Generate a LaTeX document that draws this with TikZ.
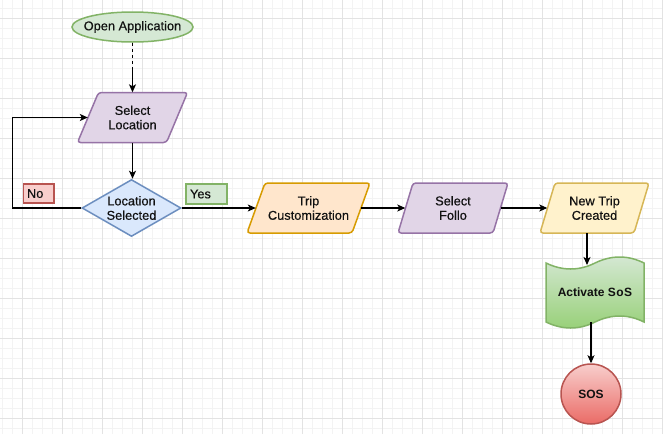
\documentclass[tikz,border=0pt]{standalone}
\usepackage{fontspec}
\setmainfont{Liberation Sans}
\newfontfamily\medfont{Liberation Sans}[FakeBold=0.4]
\usetikzlibrary{shapes.geometric,arrows.meta}
\definecolor{gridminor}{HTML}{F3F3F3}
\definecolor{gridmajor}{HTML}{E3E3E3}
\definecolor{grnF}{HTML}{D5E8D4}\definecolor{grnD}{HTML}{82B366}
\definecolor{purF}{HTML}{E1D5E7}\definecolor{purD}{HTML}{9673A6}
\definecolor{bluF}{HTML}{DAE8FC}\definecolor{bluD}{HTML}{6C8EBF}
\definecolor{orgF}{HTML}{FFE6CC}\definecolor{orgD}{HTML}{D79B00}
\definecolor{ylwF}{HTML}{FFF2CC}\definecolor{ylwD}{HTML}{D6B656}
\definecolor{redF}{HTML}{F8CECC}\definecolor{redD}{HTML}{B85450}
\definecolor{grnG}{HTML}{97D077}\definecolor{redG}{HTML}{EA6B66}
\definecolor{txtc}{HTML}{111111}
% name, cx, cy, inner width, height, skew, style, text
\newcommand\paranode[8]{%
  \filldraw[#7, rounded corners=3pt] (#2-#4/2+#6/2,#3-#5/2) -- (#2+#4/2+#6/2,#3-#5/2) -- (#2+#4/2-#6/2,#3+#5/2) -- (#2-#4/2-#6/2,#3+#5/2) -- cycle;
  \node[txt, minimum width=#4pt, minimum height=#5pt] (#1) at (#2,#3) {#8};}
\begin{document}
\begin{tikzpicture}[x=1pt,y=-1pt,
  txt/.style={align=center, inner sep=0pt, text=txtc, font=\medfont\fontsize{12.8}{14.4}\selectfont},
  boldtxt/.style={align=center, inner sep=0pt, text=txtc, font=\fontsize{12}{14.4}\selectfont\bfseries},
  shp/.style={line width=1.5pt},
  arr/.style={draw=black, line width=1.1pt, -{Stealth[length=8pt,width=7pt,inset=2pt]}},
  lab/.style={line width=1.2pt, minimum height=19pt, inner ysep=0pt, align=left, text=txtc, font=\medfont\fontsize{12.8}{14.4}\selectfont}]
\path[use as bounding box] (0,0) rectangle (663,434);
\fill[white] (0,0) rectangle (663,434);
% grid
\draw[gridminor, line width=0.8pt] \foreach \x in {2,12,...,662} {(\x,0) -- (\x,434)};
\draw[gridminor, line width=0.8pt] \foreach \y in {8,18,...,428} {(0,\y) -- (663,\y)};
\draw[gridmajor, line width=1pt] \foreach \x in {22,62,...,662} {(\x,0) -- (\x,434)};
\draw[gridmajor, line width=1pt] \foreach \y in {18,58,...,418} {(0,\y) -- (663,\y)};

% Open Application
\node[ellipse, shp, draw=grnD, fill=grnF, minimum width=121pt, minimum height=30pt, inner sep=0pt] (oa) at (132.5,27) {};
\node[txt] (oa-t) at (oa) {Open Application};

% parallelograms
\paranode{sl}{132.5}{117.5}{89}{50}{21}{shp, draw=purD, fill=purF}{Select\\Location}
\paranode{tc}{308.5}{208}{105}{50}{18}{shp, draw=orgD, fill=orgF}{Trip\\Customization}
\paranode{sf}{453}{208}{95}{50}{15}{shp, draw=purD, fill=purF}{Select\\Follo}
\paranode{ntc}{594.5}{208}{94}{50}{15}{shp, draw=ylwD, fill=ylwF}{New Trip\\Created}

% decision
\node[diamond, shp, draw=bluD, fill=bluF, minimum width=99pt, minimum height=57pt, inner sep=0pt] (dia) at (131.5,208) {};
\node[txt] (dia-t) at (dia) {Location\\Selected};

% labels
\node[lab, draw=redD, fill=redF, minimum width=30.5pt, text width=23.5pt, inner xsep=3.5pt] (no) at (38.75,193.5) {No};
\node[lab, draw=grnD, fill=grnF, minimum width=41pt, text width=33pt, inner xsep=4pt, minimum height=20pt] (yes) at (206.5,194) {Yes};

% Activate SoS (tape)
\path[shp, draw=grnD, top color=grnF, bottom color=grnG]
  (546,263) .. controls (562.5,271) and (579,271) .. (595,263)
  .. controls (611.5,255) and (628,255) .. (644,263)
  -- (644,322) .. controls (628,314) and (611.5,314) .. (595,322)
  .. controls (579,330) and (562.5,330) .. (546,322) -- cycle;
\node[boldtxt, minimum width=98pt, minimum height=59pt] (act) at (595,292.5) {Activate S\kern0.5pt o\kern0.5pt S};

% SOS
\node[circle, shp, draw=redD, top color=redF, bottom color=redG, minimum size=60pt, inner sep=0pt, boldtxt] (sos) at (591,394) {SOS};

% connectors
\coordinate (c1) at (132.5,68);
\draw[black, line width=1.1pt, dash pattern=on 3pt off 3pt] (oa.south) -- (c1);
\draw[arr] (c1) -- (sl.north);
\draw[arr] (sl.south) -- (sl.south |- dia.north);
\coordinate (lp) at (12.5,208);
\draw[arr] (dia.west) -- (lp) |- (sl.west);
\draw[arr] (dia.east) -- (tc.west);
\draw[arr] (tc.east) -- (sf.west);
\draw[arr] (sf.east) -- (ntc.west);
\coordinate (c2) at (587,265);
\draw[arr] (ntc.south -| c2) -- (c2);
\draw[arr] (sos.north |- act.south) -- (sos.north);
\end{tikzpicture}
\end{document}
